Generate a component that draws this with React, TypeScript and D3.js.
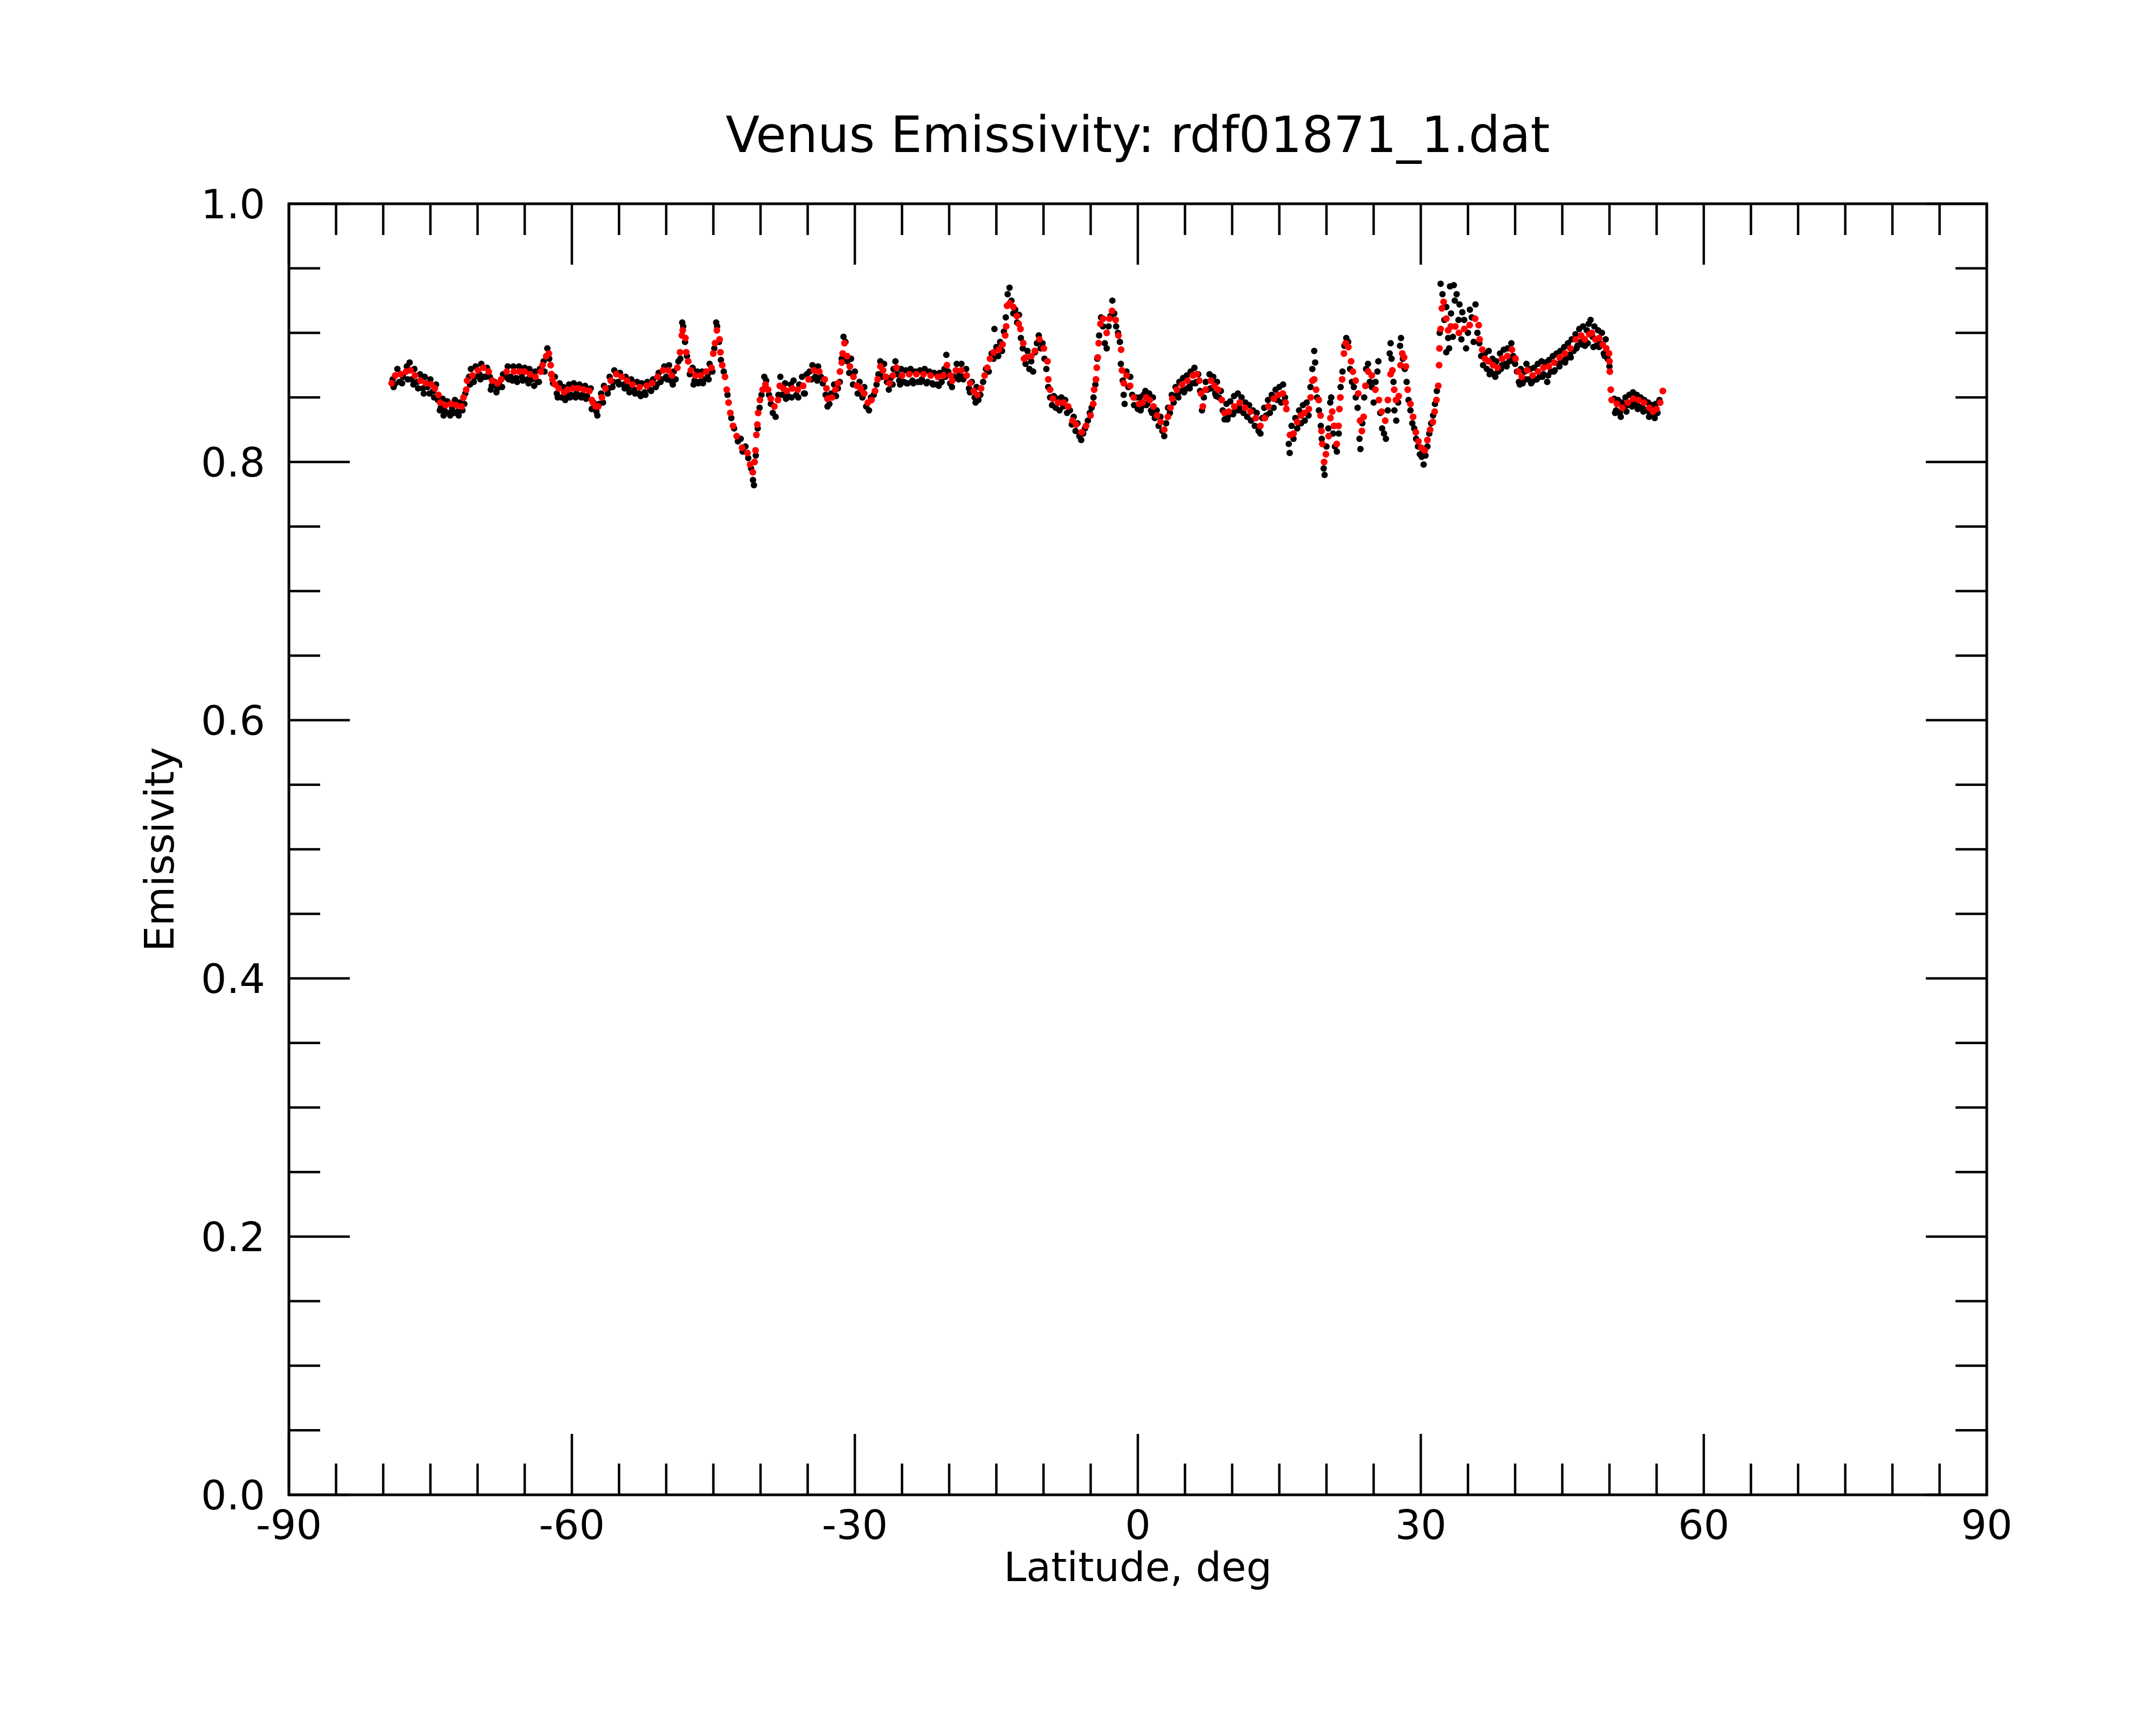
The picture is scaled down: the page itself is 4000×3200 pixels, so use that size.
import React from "react";
import * as d3 from "d3";

const titleText = "Venus Emissivity: rdf01871_1.dat";
const xLabelText = "Latitude, deg";
const yLabelText = "Emissivity";
const xMajorTicks = [-90, -60, -30, 0, 30, 60, 90];
const yMajorTicks = [0, 0.2, 0.4, 0.6, 0.8, 1.0];
const xMinorStep = 5;
const yMinorStep = 0.05;

// raw emissivity samples (black)
const rawPoints: [number, number][] = [
  [-79.0,.864],[-78.9,.858],[-78.5,.872],[-78.3,.862],[-77.9,.866],[-77.5,.874],[-77.2,.877],[-77.0,.864],[-76.7,.872],[-76.4,.862],
  [-76.1,.868],[-75.8,.857],[-75.6,.866],[-75.3,.858],[-75.0,.864],[-74.7,.855],[-74.4,.860],[-74.2,.848],[-73.9,.842],[-73.7,.849],
  [-73.5,.840],[-73.2,.847],[-73.0,.838],[-72.7,.842],[-72.4,.848],[-72.1,.839],[-71.9,.846],[-71.6,.840],[-71.3,.853],[-70.9,.866],
  [-70.7,.872],[-70.4,.862],[-70.2,.874],[-69.8,.868],[-69.6,.876],[-69.3,.866],[-69.0,.873],[-68.7,.866],[-68.5,.859],[-68.2,.862],
  [-67.9,.857],[-67.7,.860],[-67.3,.868],[-67.0,.866],[-66.8,.874],[-66.5,.866],[-66.2,.874],[-65.9,.865],[-65.6,.874],[-65.3,.866],
  [-65.0,.873],[-64.7,.864],[-64.5,.872],[-64.2,.864],[-63.9,.870],[-63.6,.862],[-63.4,.872],[-63.0,.878],[-62.6,.888],[-62.4,.880],
  [-62.0,.861],[-61.8,.866],[-61.6,.853],[-61.3,.861],[-61.1,.850],[-60.9,.858],[-60.6,.852],[-60.3,.860],[-60.1,.852],[-59.8,.861],
  [-59.5,.853],[-59.2,.860],[-58.9,.852],[-58.6,.859],[-58.4,.851],[-58.0,.857],
  [-57.7,.846],[-57.4,.839],[-57.1,.845],[-56.9,.853],[-56.6,.859],[-56.2,.853],[-56.0,.866],[-55.7,.858],[-55.5,.871],[-55.1,.862],
  [-54.9,.869],[-54.5,.860],[-54.3,.866],[-54.0,.858],[-53.7,.864],[-53.4,.856],[-53.1,.862],[-52.9,.853],[-52.6,.861],[-52.3,.854],
  [-52.0,.862],[-51.7,.856],[-51.4,.864],[-51.1,.858],[-50.8,.869],[-50.6,.862],[-50.2,.874],[-50.0,.866],[-49.7,.875],[-49.5,.863],
  [-49.2,.870],[-49.0,.864],[-48.7,.878],[-48.5,.880],[-48.3,.908],[-48.2,.905],[-48.0,.893],[-47.8,.882],[-47.5,.868],[-47.2,.873],
  [-47.0,.863],[-46.7,.870],[-46.5,.862],[-46.2,.870],[-46.0,.864],[-45.6,.868],[-45.4,.876],[-45.1,.870],[-44.9,.888],[-44.7,.908],
  [-44.6,.905],[-44.4,.893],[-44.2,.879],[-43.9,.870],[-43.5,.852],[-43.1,.834],[-42.8,.826],[-42.4,.816],[-42.1,.818],[-41.9,.808],
  [-41.6,.812],[-41.3,.803],[-41.0,.795],[-40.8,.786],[-40.7,.782],[-40.5,.805],[-40.3,.826],[-40.1,.842],[-39.9,.852],[-39.6,.866],
  [-39.4,.863],[-39.1,.852],[-38.9,.845],[-38.7,.838],[-38.4,.835],[-38.1,.852],[-37.9,.866],[-37.7,.852],[-37.4,.861],[-37.1,.851],
  [-36.8,.860],[-36.5,.863],[-36.2,.852],[-35.9,.860],[-35.6,.866],[-35.3,.853],[-35.1,.868],
  [-34.8,.870],[-34.5,.875],[-34.2,.866],[-33.9,.874],[-33.6,.866],[-33.4,.861],[-33.1,.852],[-32.9,.843],[-32.7,.845],[-32.5,.853],
  [-32.2,.860],[-32.0,.851],[-31.8,.857],[-31.6,.862],[-31.4,.880],[-31.2,.897],[-31.0,.893],[-30.8,.878],[-30.6,.869],[-30.4,.880],
  [-30.2,.860],[-30.0,.870],[-29.7,.853],[-29.5,.862],[-29.2,.850],[-29.0,.858],[-28.8,.843],[-28.5,.840],[-28.3,.850],[-28.0,.852],
  [-27.7,.860],[-27.5,.868],[-27.3,.878],[-27.1,.866],[-26.9,.876],[-26.6,.862],[-26.4,.856],[-26.2,.865],[-25.9,.872],[-25.7,.878],
  [-25.5,.868],[-25.3,.863],[-25.1,.872],[-24.8,.862],[-24.6,.871],[-24.4,.861],[-24.1,.872],[-23.9,.863],[-23.6,.870],[-23.3,.862],
  [-23.1,.871],[-22.9,.864],[-22.6,.872],[-22.3,.862],[-22.1,.870],[-21.8,.861],[-21.6,.869],[-21.3,.860],[-21.0,.869],[-20.8,.862],
  [-20.5,.872],[-20.3,.883],[-20.1,.870],[-19.9,.861],[-19.7,.858],[-19.5,.866],[-19.2,.876],[-18.9,.868],[-18.7,.876],[-18.4,.866],
  [-18.2,.872],[-17.9,.857],[-17.6,.862],[-17.3,.850],[-17.1,.858],[-16.9,.848],[-16.7,.852],[-16.4,.862],[-16.1,.872],[-15.8,.870],
  [-15.5,.884],[-15.3,.880],[-15.2,.903],[-15.0,.889],[-14.8,.882],[-14.6,.893],[-14.4,.886],[-14.2,.901],[-14.0,.912],[-13.8,.930],
  [-13.6,.935],[-13.4,.925],[-13.2,.915],[-13.0,.918],[-12.8,.908],[-12.6,.914],[-12.4,.896],[-12.2,.888],
  [-11.9,.876],[-11.7,.886],[-11.5,.872],[-11.3,.878],[-11.1,.870],[-10.9,.885],[-10.7,.892],[-10.5,.898],[-10.3,.888],[-10.1,.892],
  [-9.9,.880],[-9.7,.872],[-9.5,.858],[-9.3,.850],[-9.1,.844],[-8.9,.851],[-8.7,.842],[-8.5,.849],[-8.3,.840],[-8.1,.850],
  [-7.9,.843],[-7.7,.848],[-7.5,.838],[-7.2,.840],[-7.0,.829],[-6.8,.835],[-6.6,.824],[-6.4,.830],[-6.2,.820],[-6.0,.817],
  [-5.8,.822],[-5.6,.826],[-5.3,.832],[-5.1,.838],[-4.9,.842],[-4.7,.850],[-4.5,.860],[-4.3,.880],[-4.1,.898],[-3.9,.912],
  [-3.7,.905],[-3.5,.892],[-3.3,.888],[-3.1,.905],[-2.9,.913],[-2.7,.925],[-2.5,.915],[-2.3,.905],[-2.1,.900],[-1.9,.893],
  [-1.8,.876],[-1.6,.863],[-1.5,.852],[-1.4,.845],[-1.2,.870],[-1.0,.858],[-0.8,.866],[-0.6,.852],[-0.4,.844],[-0.2,.850],
  [0.0,.841],[0.2,.850],[0.4,.843],[0.6,.852],[0.8,.855],[1.0,.845],[1.2,.853],[1.4,.840],[1.6,.850],[1.8,.834],
  [2.0,.840],[2.2,.828],[2.4,.835],[2.6,.824],[2.8,.820],[3.0,.830],[3.2,.842],[3.4,.838],[3.6,.852],[3.8,.846],
  [4.0,.858],[4.2,.852],[4.4,.862],[4.6,.855],[4.8,.865],[5.0,.856],[5.2,.867],[5.4,.858],[5.6,.870],[5.8,.861],
  [6.0,.873],[6.2,.862],[6.4,.868],[6.6,.855],[6.8,.840],[7.0,.850],[7.2,.862],[7.4,.856],[7.6,.868],[7.8,.857],
  [8.0,.866],[8.2,.853],[8.4,.862],[8.6,.850],[8.8,.855],[9.0,.840],[9.2,.833],[9.4,.845],[9.6,.836],[9.8,.847],
  [10.0,.838],[10.2,.851],[10.4,.840],[10.6,.853],[10.8,.842],
  [11.0,.850],[11.2,.838],[11.4,.846],[11.6,.835],[11.8,.844],[12.0,.832],[12.2,.840],[12.4,.828],[12.6,.838],[12.8,.824],
  [13.0,.822],[13.2,.834],[13.4,.842],[13.6,.836],[13.8,.848],[14.0,.838],[14.2,.852],[14.4,.842],[14.6,.856],[14.8,.848],
  [15.0,.858],[15.2,.846],[15.4,.860],[15.6,.850],[16.0,.814],[16.1,.807],[16.3,.828],[16.5,.818],[16.7,.834],[16.9,.826],
  [17.1,.840],[17.3,.830],[17.5,.844],[17.7,.832],[17.9,.846],[18.1,.836],[18.3,.858],[18.5,.872],[18.7,.886],[18.8,.877],
  [19.0,.850],[19.2,.840],[19.4,.828],[19.5,.818],[19.7,.795],[19.8,.790],[20.0,.812],[20.2,.826],[20.4,.846],[20.5,.850],
  [20.7,.822],[20.9,.812],[21.1,.808],[21.3,.822],[21.5,.858],[21.7,.870],[21.9,.890],[22.1,.896],[22.3,.893],[22.5,.872],
  [22.7,.862],[22.9,.858],[23.1,.850],[23.3,.842],[23.5,.818],[23.6,.810],[23.8,.830],[24.0,.850],[24.2,.872],[24.4,.876],
  [24.6,.862],[24.8,.858],[25.0,.846],[25.2,.862],[25.4,.870],[25.5,.878],[25.7,.838],[25.9,.826],[26.1,.822],[26.3,.818],
  [26.5,.840],[26.7,.884],[26.8,.892],[26.9,.880],[27.1,.862],[27.2,.840],[27.4,.832],[27.6,.846],[27.8,.890],[27.9,.896],
  [28.1,.880],[28.3,.872],[28.5,.862],[28.7,.848],[28.9,.840],[29.1,.830],[29.3,.826],[29.5,.818],[29.7,.812],[29.9,.806],
  [30.1,.804],[30.3,.798],[30.5,.805],[30.7,.812],[30.9,.822],[31.1,.830],[31.3,.836],[31.5,.845],[31.7,.855],[32.0,.900],
  [32.1,.938],[32.3,.930],[32.5,.910],[32.7,.885],[32.7,.920],[32.9,.896],[33.0,.888],[33.1,.936],[33.2,.915],[33.4,.897],
  [33.5,.937],[33.6,.925],
  [33.8,.930],[34.0,.910],[34.1,.922],[34.3,.895],[34.4,.916],[34.6,.910],[34.8,.888],[35.0,.900],[35.2,.918],[35.4,.912],
  [35.6,.893],[35.8,.922],[36.0,.900],[36.2,.892],[36.4,.882],[36.6,.875],[36.8,.884],[37.0,.872],[37.2,.886],[37.4,.870],
  [37.6,.880],[37.8,.868],[38.0,.878],[38.2,.870],[38.4,.884],[38.6,.875],[38.8,.887],[39.0,.876],[39.2,.888],[39.4,.878],
  [39.6,.892],[39.8,.882],[40.0,.876],[40.2,.870],[40.4,.862],[40.6,.872],[40.8,.861],[41.0,.870],[41.2,.876],[41.4,.864],
  [41.6,.872],[41.8,.862],[42.0,.873],[42.2,.864],[42.4,.876],[42.6,.866],[42.8,.878],[43.0,.868],[43.2,.877],[43.4,.862],
  [43.6,.879],[43.8,.870],[44.0,.882],[44.2,.871],[44.4,.884],[44.6,.876],[44.8,.886],[45.0,.878],[45.2,.889],[45.4,.880],
  [45.6,.892],[45.8,.883],[46.0,.895],[46.2,.886],[46.4,.899],[46.6,.890],[46.8,.903],[47.0,.893],[47.2,.905],[47.4,.890],
  [47.6,.902],[47.8,.907],[48.0,.910],[48.2,.897],[48.4,.905],[48.6,.890],[48.8,.902],[49.0,.892],[49.2,.900],[49.4,.884],
  [49.6,.895],[49.8,.880],[50.0,.874],[50.5,.849],[50.7,.840],[50.9,.848],[51.1,.838],[51.3,.846],[51.5,.842],[51.7,.850],
  [51.9,.844],[52.1,.852],[52.3,.846],[52.5,.854],[52.7,.845],[52.9,.852],[53.1,.843],[53.3,.850],[53.5,.842],[53.7,.848],
  [53.9,.840],[54.1,.846],[54.3,.837],[54.5,.844],[54.7,.836],[54.9,.845],[55.1,.838],[55.3,.848],
];

// further raw samples lying just under the smoothed curve (black)
const rawPointsLower: [number, number][] = [
  [-78.8,.860],[-78.0,.861],[-77.4,.864],[-76.8,.860],[-76.3,.857],[-75.7,.853],[-75.1,.853],[-74.6,.850],[-74.0,.840],[-73.6,.836],
  [-72.9,.836],[-72.5,.838],[-72.0,.836],[-71.4,.845],[-70.8,.860],[-70.3,.866],[-69.7,.864],[-69.1,.866],[-68.6,.856],[-68.0,.854],
  [-67.4,.858],[-66.7,.864],[-66.3,.863],[-65.8,.862],[-65.2,.863],[-64.6,.861],[-64.0,.859],[-63.5,.862],[-62.9,.870],[-62.2,.868],
  [-61.5,.850],[-60.7,.848],[-60.2,.850],[-59.6,.850],[-59.0,.850],[-58.5,.849],[-57.9,.841],[-57.3,.836],[-56.7,.846],[-56.1,.857],
  [-55.6,.862],[-55.0,.860],[-54.4,.857],[-53.9,.854],[-53.3,.853],[-52.7,.851],[-52.2,.852],[-51.6,.855],[-51.0,.860],[-50.5,.864],
  [-49.9,.864],[-49.3,.860],[-47.1,.860],[-46.6,.861],[-46.1,.861],[-45.5,.864],[-37.3,.849],[-36.7,.850],[-36.0,.850],[-35.4,.853],
  [-34.6,.864],[-34.0,.863],[-26.0,.860],[-25.2,.860],[-24.5,.861],[-23.8,.861],[-23.0,.862],[-22.4,.861],[-21.7,.860],[-21.1,.859],
  [-20.4,.866],[-19.0,.864],[-18.5,.864],[-17.8,.854],[-17.2,.846],[0.3,.840],[0.9,.844],[1.5,.838],[4.3,.850],[4.9,.854],
  [5.5,.857],[6.1,.861],[7.7,.857],[8.3,.851],[9.5,.833],[10.1,.837],[10.7,.840],[37.3,.868],[37.9,.866],[38.5,.872],
  [39.1,.874],[39.7,.880],[40.5,.860],[41.1,.864],[41.7,.861],[42.3,.864],[42.9,.866],[43.5,.867],[44.1,.870],[44.7,.874],
  [45.3,.877],[45.9,.881],[46.5,.888],[47.1,.891],[47.7,.892],[48.3,.889],[48.9,.889],[49.5,.882],[50.6,.838],[51.2,.835],
  [51.8,.839],[52.4,.843],[53.0,.841],[53.6,.839],[54.2,.835],[54.8,.834],
];

// smoothed emissivity (red)
const smoothPoints: [number, number][] = [
  [-79.11,.861],[-78.72,.867],[-78.15,.868],[-77.58,.870],[-77.11,.871],[-76.63,.867],[-76.06,.863],[-75.49,.861],[-74.92,.860],[-74.53,.857],
  [-74.15,.852],[-73.96,.846],[-73.39,.844],[-72.82,.845],[-72.25,.844],[-71.68,.843],[-71.49,.850],[-71.20,.856],[-71.11,.863],[-70.54,.867],
  [-69.96,.871],[-69.39,.873],[-68.82,.870],[-68.44,.863],[-67.87,.861],[-67.49,.864],[-66.92,.870],[-66.15,.870],[-65.58,.870],[-65.01,.870],
  [-64.44,.868],[-63.87,.866],[-63.30,.870],[-63.11,.875],[-62.72,.882],[-62.44,.884],[-62.25,.875],[-62.16,.868],[-62.06,.864],[-61.77,.860],
  [-61.39,.857],[-60.82,.854],[-60.44,.856],[-59.87,.857],[-59.30,.857],[-58.72,.856],[-58.15,.855],[-57.90,.848],
  [-57.77,.846],[-57.48,.843],[-57.20,.843],[-56.82,.850],[-56.44,.857],[-55.87,.863],[-55.29,.868],[-54.72,.866],[-54.15,.863],[-53.58,.860],
  [-52.82,.858],[-52.06,.859],[-51.48,.861],[-50.91,.866],[-50.34,.871],[-49.77,.871],[-49.39,.867],[-48.82,.873],[-48.53,.885],[-48.34,.898],
  [-48.25,.902],[-47.96,.896],[-47.87,.885],[-47.67,.878],[-47.39,.871],[-46.91,.867],[-46.34,.867],[-45.77,.870],[-45.20,.873],[-45.01,.884],
  [-44.82,.892],[-44.63,.902],[-44.34,.895],[-44.25,.885],[-44.06,.875],[-43.77,.866],[-43.58,.856],[-43.39,.846],[-43.20,.838],[-42.91,.828],
  [-42.53,.820],[-41.96,.811],[-41.39,.807],[-41.10,.798],[-40.82,.792],[-40.63,.800],[-40.53,.809],[-40.44,.821],[-40.34,.829],[-40.25,.838],
  [-40.06,.848],[-39.77,.856],[-39.48,.860],[-39.20,.856],[-38.91,.849],[-38.53,.843],[-38.15,.848],[-37.96,.859],[-37.58,.857],[-37.20,.855],
  [-36.63,.857],[-36.06,.856],[-35.48,.859],[-34.91,.864],
  [-34.34,.871],[-33.77,.870],[-33.20,.864],[-33.01,.857],[-32.91,.849],[-32.43,.850],[-32.05,.856],[-31.77,.861],[-31.58,.870],[-31.39,.877],
  [-31.29,.884],[-31.10,.892],[-30.82,.882],[-30.53,.874],[-30.15,.866],[-29.77,.859],[-29.39,.857],[-29.01,.853],[-28.62,.846],[-28.24,.848],
  [-27.86,.855],[-27.58,.864],[-27.29,.874],[-27.01,.871],[-26.72,.866],[-26.34,.861],[-25.96,.867],[-25.58,.873],[-25.00,.867],[-24.24,.868],
  [-23.48,.868],[-22.72,.868],[-21.96,.867],[-21.20,.866],[-20.62,.867],[-20.24,.875],[-19.86,.867],[-19.67,.863],[-19.29,.871],[-18.72,.871],
  [-18.15,.867],[-17.77,.861],[-17.39,.855],[-17.01,.852],[-16.62,.857],[-16.24,.867],[-15.96,.873],[-15.67,.880],[-15.29,.885],[-14.72,.887],
  [-14.34,.891],[-14.06,.898],[-13.96,.905],[-13.86,.921],[-13.58,.923],[-13.20,.920],[-12.82,.913],[-12.63,.907],[-12.44,.903],[-12.15,.892],
  [-12.06,.880],
  [-11.87,.881],[-11.30,.882],[-10.92,.886],[-10.44,.895],[-9.96,.888],[-9.58,.878],[-9.49,.864],[-9.30,.856],[-9.01,.849],[-8.44,.846],
  [-7.87,.846],[-7.39,.843],[-6.92,.832],[-6.54,.829],[-5.96,.823],[-5.49,.828],[-5.01,.836],[-4.73,.845],[-4.63,.856],[-4.44,.864],
  [-4.35,.873],[-4.25,.881],[-4.15,.892],[-3.96,.907],[-3.68,.911],[-3.30,.900],[-3.01,.911],[-2.73,.917],[-2.35,.910],[-2.06,.898],
  [-1.77,.887],[-1.68,.871],[-1.49,.861],[-1.20,.867],[-0.82,.859],[-0.44,.850],[0.13,.845],[0.51,.846],[0.89,.850],[1.27,.848],
  [1.65,.843],[2.03,.836],[2.42,.831],[2.80,.825],[3.18,.835],[3.46,.842],[3.65,.849],[4.13,.856],[4.70,.860],[5.27,.863],
  [5.84,.867],[6.23,.868],[6.51,.863],[6.70,.853],[6.89,.843],[7.18,.856],[7.75,.863],[8.13,.859],[8.51,.856],[8.89,.848],
  [9.18,.838],[9.65,.839],[10.23,.843],[10.80,.846],
  [11.37,.842],[11.94,.839],[12.51,.834],[12.99,.828],[13.47,.834],[13.85,.843],[14.42,.849],[14.90,.852],[15.37,.853],[15.66,.846],
  [15.75,.841],[16.13,.821],[16.51,.822],[16.90,.831],[17.28,.836],[17.66,.838],[18.13,.841],[18.32,.850],[18.51,.863],[18.70,.864],
  [18.90,.856],[19.18,.848],[19.37,.836],[19.47,.824],[19.56,.814],[19.75,.800],[19.94,.806],[20.23,.820],[20.42,.834],[20.61,.839],
  [20.80,.828],[21.09,.814],[21.28,.828],[21.37,.841],[21.47,.850],[21.66,.864],[21.85,.884],[22.04,.892],[22.32,.889],[22.61,.878],
  [22.80,.870],[23.09,.863],[23.37,.853],[23.56,.832],[23.75,.824],[23.94,.835],[24.13,.859],[24.42,.870],[24.80,.867],[25.18,.856],
  [25.56,.848],[25.85,.839],[26.23,.832],[26.51,.848],[26.80,.868],[26.99,.871],[27.18,.856],[27.37,.848],[27.66,.851],[27.85,.875],
  [28.04,.884],[28.23,.881],[28.42,.874],[28.61,.856],[28.90,.845],[29.18,.835],[29.47,.823],[29.75,.816],[30.04,.811],[30.42,.809],
  [30.70,.817],[30.99,.825],[31.28,.831],[31.47,.839],[31.66,.848],[31.85,.859],[31.94,.875],[31.98,.888],[32.10,.903],[32.23,.919],
  [32.42,.924],[32.70,.911],[32.90,.902],[33.18,.905],[33.66,.905],
  [34.04,.900],[34.61,.903],[35.18,.906],[35.76,.911],[36.14,.906],[36.23,.895],[36.52,.887],[36.80,.880],[37.18,.878],[37.66,.875],
  [38.14,.873],[38.61,.880],[39.18,.882],[39.66,.887],[40.04,.880],[40.33,.870],[40.71,.866],[41.28,.871],[41.85,.867],[42.42,.870],
  [43.00,.873],[43.57,.874],[44.14,.877],[44.71,.881],[45.28,.884],[45.85,.888],[46.42,.895],[47.00,.898],[47.38,.895],[47.85,.899],
  [48.14,.900],[48.52,.895],[48.90,.896],[49.28,.891],[49.66,.888],[49.95,.884],[50.00,.878],[50.04,.870],[50.14,.856],[50.23,.848],
  [50.80,.845],[51.37,.842],[51.95,.846],[52.52,.849],[53.09,.848],[53.66,.846],[54.23,.842],[54.61,.839],[54.99,.841],[55.38,.846],
  [55.66,.855],
];

const FONT = "'DejaVu Sans', Verdana, sans-serif";

export default function App() {
  const W = 4000;
  const H = 3200;
  const left = 536, right = 3686, top = 378, bottom = 2773;
  const x = d3.scaleLinear().domain([-90, 90]).range([left, right]);
  const y = d3.scaleLinear().domain([0, 1]).range([bottom, top]);

  const xMinor = d3.range(-90, 90.0001, xMinorStep).filter(
    (v) => !xMajorTicks.some((m) => Math.abs(m - v) < 1e-6)
  );
  const yMinor = d3.range(0, 1.00001, yMinorStep).filter(
    (v) => !yMajorTicks.some((m) => Math.abs(m - v) < 1e-6)
  );
  const majorLen = 113;
  const minorLen = 58;
  const tickW = 4.5;
  const fmtX = (v: number) => (v < 0 ? "-" + Math.abs(v) : String(v));
  const fmtY = d3.format(".1f");
  const allRaw = rawPoints.concat(rawPointsLower);

  return (
    <svg
      width={W}
      height={H}
      viewBox={`0 0 ${W} ${H}`}
      style={{ position: "absolute", left: 0, top: 0, background: "#fff" }}
      fontFamily={FONT}
    >
      <rect x={0} y={0} width={W} height={H} fill="#fff" />

      {/* raw points */}
      <g fill="#000">
        {allRaw.map(([lat, v], i) => (
          <circle key={"b" + i} cx={x(lat)} cy={y(v)} r={6} />
        ))}
      </g>
      {/* smoothed points */}
      <g fill="#ff0000">
        {smoothPoints.map(([lat, v], i) => (
          <circle key={"r" + i} cx={x(lat)} cy={y(v)} r={6.3} />
        ))}
      </g>

      {/* ticks */}
      <g stroke="#000" strokeWidth={tickW}>
        {xMajorTicks.map((t) => (
          <g key={"xM" + t}>
            <line x1={x(t)} x2={x(t)} y1={bottom} y2={bottom - majorLen} />
            <line x1={x(t)} x2={x(t)} y1={top} y2={top + majorLen} />
          </g>
        ))}
        {xMinor.map((t) => (
          <g key={"xm" + t}>
            <line x1={x(t)} x2={x(t)} y1={bottom} y2={bottom - minorLen} />
            <line x1={x(t)} x2={x(t)} y1={top} y2={top + minorLen} />
          </g>
        ))}
        {yMajorTicks.map((t) => (
          <g key={"yM" + t}>
            <line x1={left} x2={left + majorLen} y1={y(t)} y2={y(t)} />
            <line x1={right} x2={right - majorLen} y1={y(t)} y2={y(t)} />
          </g>
        ))}
        {yMinor.map((t) => (
          <g key={"ym" + t}>
            <line x1={left} x2={left + minorLen} y1={y(t)} y2={y(t)} />
            <line x1={right} x2={right - minorLen} y1={y(t)} y2={y(t)} />
          </g>
        ))}
      </g>

      {/* frame */}
      <rect
        x={left}
        y={top}
        width={right - left}
        height={bottom - top}
        fill="none"
        stroke="#000"
        strokeWidth={5}
      />

      {/* tick labels */}
      <g fontSize={75} fill="#000">
        {xMajorTicks.map((t) => (
          <text key={"xl" + t} x={x(t)} y={2855} textAnchor="middle">
            {fmtX(t)}
          </text>
        ))}
        {yMajorTicks.map((t) => (
          <text key={"yl" + t} x={492} y={y(t)} dy="0.36em" textAnchor="end">
            {fmtY(t)}
          </text>
        ))}
      </g>

      {/* axis labels */}
      <text x={(left + right) / 2} y={2933} fontSize={75} textAnchor="middle">
        {xLabelText}
      </text>
      <text
        transform={`translate(322, ${(top + bottom) / 2}) rotate(-90)`}
        fontSize={75}
        textAnchor="middle"
      >
        {yLabelText}
      </text>

      {/* title */}
      <text x={(left + right) / 2} y={282} fontSize={92} textAnchor="middle">
        {titleText}
      </text>
    </svg>
  );
}
